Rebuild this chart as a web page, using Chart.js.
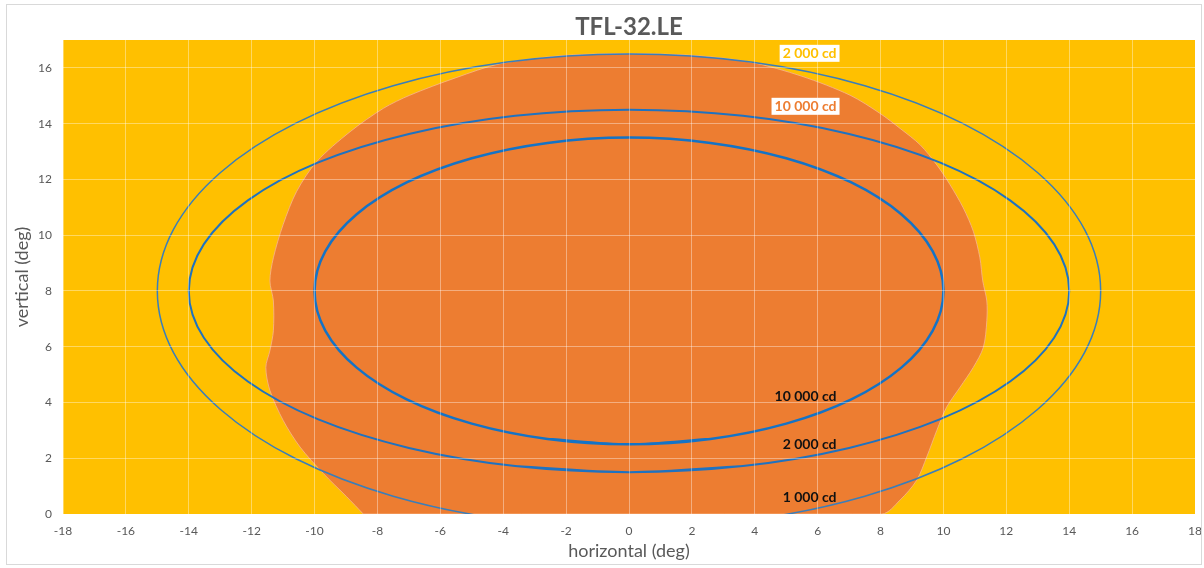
<!DOCTYPE html>
<html>
<head>
<meta charset="utf-8">
<script src="https://cdn.jsdelivr.net/npm/chart.js@4/dist/chart.umd.min.js"></script>
<style>
  html, body { margin: 0; padding: 0; background: #fff; }
  #wrap { position: relative; width: 1204px; height: 568px; }
  #frame { position: absolute; left: 6px; top: 4px; width: 1196px; height: 561px; border: 1px solid #d9d9d9; box-sizing: border-box; pointer-events: none; }
  canvas { position: absolute; left: 0; top: 0; }
</style>
</head>
<body>
<div id="wrap">
  <canvas id="chart" width="1204" height="568"></canvas>
  <div id="frame"></div>
</div>
<script>
// tick labels
const xTicks = [-18, -16, -14, -12, -10, -8, -6, -4, -2, 0, 2, 4, 6, 8, 10, 12, 14, 16, 18];
const yTicks = [0, 2, 4, 6, 8, 10, 12, 14, 16];

// orange area
const areaX = [-8.45, -8.98, -9.72, -10.46, -11.0, -11.42, -11.55, -11.42, -11.31, -11.31, -11.42, -11.31, -11.0, -10.57, -9.93, -8.87, -7.81, -6.97, -5.5, -4.1, -2.0, 0, 2.0, 3.85, 5.5, 7.03, 7.98, 8.62, 9.26, 9.79, 10.21, 10.63, 10.95, 11.16, 11.25, 11.38, 11.38, 11.27, 10.95, 10.53, 10.1, 9.79, 9.47, 9.15, 8.62, 8.04, -8.45];
const areaY = [0, 0.62, 1.45, 2.4, 3.36, 4.43, 5.26, 5.86, 6.57, 7.64, 8.36, 9.19, 10.38, 11.57, 12.64, 13.71, 14.55, 15.02, 15.65, 16.15, 16.45, 16.51, 16.45, 16.21, 15.7, 15.02, 14.37, 13.83, 13.24, 12.52, 11.81, 10.98, 10.14, 9.19, 8.36, 7.64, 6.93, 5.98, 5.26, 4.55, 3.83, 3.0, 2.05, 1.21, 0.5, 0, 0];

// contour 1 000 cd (loop overlaps itself by one step so the join is smooth)
const c1000X = [-3.88, 0, 3.88, 7.5, 10.61, 12.99, 14.49, 15, 14.49, 12.99, 10.61, 7.5, 3.88, 0, -3.88, -7.5, -10.61, -12.99, -14.49, -15, -14.49, -12.99, -10.61, -7.5, -3.88, 0, 3.88];
const c1000Y = [-0.21, -0.5, -0.21, 0.64, 1.99, 3.75, 5.80, 8, 10.20, 12.25, 14.01, 15.36, 16.21, 16.5, 16.21, 15.36, 14.01, 12.25, 10.20, 8, 5.80, 3.75, 1.99, 0.64, -0.21, -0.5, -0.21];

// contour 2 000 cd
const c2000X = [-3.62, 0, 3.62, 7, 9.90, 12.12, 13.52, 14, 13.52, 12.12, 9.90, 7, 3.62, 0, -3.62, -7, -9.90, -12.12, -13.52, -14, -13.52, -12.12, -9.90, -7, -3.62, 0, 3.62];
const c2000Y = [1.72, 1.5, 1.72, 2.37, 3.40, 4.75, 6.32, 8, 9.68, 11.25, 12.60, 13.63, 14.28, 14.5, 14.28, 13.63, 12.60, 11.25, 9.68, 8, 6.32, 4.75, 3.40, 2.37, 1.72, 1.5, 1.72];

// contour 10 000 cd
const c10000X = [-2.59, 0, 2.59, 5, 7.07, 8.66, 9.66, 10, 9.66, 8.66, 7.07, 5, 2.59, 0, -2.59, -5, -7.07, -8.66, -9.66, -10, -9.66, -8.66, -7.07, -5, -2.59, 0, 2.59];
const c10000Y = [2.69, 2.5, 2.69, 3.24, 4.11, 5.25, 6.58, 8, 9.42, 10.75, 11.89, 12.76, 13.31, 13.5, 13.31, 12.76, 11.89, 10.75, 9.42, 8, 6.58, 5.25, 4.11, 3.24, 2.69, 2.5, 2.69];

// text labels on the plot
const titleText = 'TFL-32.LE';
const labelText = ['2 000 cd', '10 000 cd', '10 000 cd', '2 000 cd', '1 000 cd'];
const labelY = [16.54, 14.64, 4.25, 2.54, 0.64];
const labelRightX = 6.6;

const pts = (xs, ys) => xs.map((x, i) => ({ x: x, y: ys[i] }));

const FONT = 'Lato, "Open Sans", sans-serif';
const GREY = '#595959';

const plotBackground = {
  id: 'plotBackground',
  beforeDraw(chart) {
    const { ctx, chartArea: a } = chart;
    ctx.save();
    ctx.fillStyle = '#FFC000';
    ctx.fillRect(a.left, a.top, a.right - a.left, a.bottom - a.top);
    ctx.restore();
  }
};

// title centred over the plot area, like the original
const plotTitle = {
  id: 'plotTitle',
  afterDraw(chart) {
    const { ctx, chartArea: a } = chart;
    ctx.save();
    ctx.font = 'bold 24px ' + FONT;
    ctx.fillStyle = GREY;
    ctx.textAlign = 'center';
    ctx.textBaseline = 'middle';
    ctx.fillText(titleText, (a.left + a.right) / 2, 27);
    ctx.restore();
  }
};

const contourLabels = {
  id: 'contourLabels',
  afterDraw(chart) {
    const { ctx, scales } = chart;
    const styles = [
      { color: '#FFC000', box: true },
      { color: '#ED7D31', box: true },
      { color: '#111111', box: false },
      { color: '#111111', box: false },
      { color: '#111111', box: false },
    ];
    ctx.save();
    ctx.font = 'bold 14px ' + FONT;
    ctx.textAlign = 'right';
    ctx.textBaseline = 'middle';
    labelText.forEach((t, i) => {
      const x = scales.x.getPixelForValue(labelRightX);
      const y = scales.y.getPixelForValue(labelY[i]);
      const w = ctx.measureText(t).width;
      if (styles[i].box) {
        ctx.fillStyle = '#ffffff';
        ctx.fillRect(x - w - 3, y - 8, w + 6, 17);
      }
      ctx.fillStyle = styles[i].color;
      ctx.fillText(t, x, y + 1);
    });
    ctx.restore();
  }
};

const ellipse = (label, xs, ys, color, width) => ({
  label: label,
  data: pts(xs, ys),
  showLine: true,
  borderColor: color,
  borderWidth: width,
  tension: 0.34,
  pointRadius: 0,
  fill: false,
  clip: 0,
});

const ctx = document.getElementById('chart').getContext('2d');
new Chart(ctx, {
  type: 'scatter',
  data: {
    datasets: [
      ellipse('10 000 cd', c10000X, c10000Y, '#1473c6', 2.5),
      ellipse('2 000 cd', c2000X, c2000Y, '#1f72c0', 2),
      ellipse('1 000 cd', c1000X, c1000Y, '#3a7eba', 1.5),
      {
        label: 'area',
        data: pts(areaX, areaY),
        showLine: true,
        borderColor: 'rgba(247,178,130,0.9)',
        borderWidth: 1,
        backgroundColor: '#ED7D31',
        tension: 0.3,
        pointRadius: 0,
        fill: 'shape',
        clip: 0,
      },
    ],
  },
  options: {
    responsive: false,
    animation: false,
    events: [],
    layout: { padding: { left: 6, right: 9, top: 40, bottom: 6 } },
    plugins: {
      legend: { display: false },
      tooltip: { enabled: false },
      title: { display: false },
    },
    scales: {
      x: {
        type: 'linear',
        min: -18,
        max: 18,
        afterBuildTicks: (axis) => { axis.ticks = xTicks.map((v) => ({ value: v })); },
        afterFit: (axis) => { axis.height = 48; axis.paddingLeft = 0; axis.paddingRight = 0; },
        grid: { color: 'rgba(255,255,255,0.38)', lineWidth: 1, drawTicks: false, z: 1 },
        border: { display: false },
        ticks: { color: GREY, font: { family: FONT, size: 12 }, padding: 10, maxRotation: 0 },
        title: {
          display: true,
          text: 'horizontal (deg)',
          color: GREY,
          font: { family: FONT, size: 18 },
          padding: { top: 0, bottom: 0 },
        },
      },
      y: {
        type: 'linear',
        min: 0,
        max: 17,
        afterBuildTicks: (axis) => { axis.ticks = yTicks.map((v) => ({ value: v })); },
        afterFit: (axis) => { axis.width = 57; axis.paddingTop = 0; axis.paddingBottom = 0; },
        grid: { color: 'rgba(255,255,255,0.38)', lineWidth: 1, drawTicks: false, z: 1 },
        border: { display: false },
        ticks: { color: GREY, font: { family: FONT, size: 12 }, padding: 11 },
        title: {
          display: true,
          text: 'vertical (deg)',
          color: GREY,
          font: { family: FONT, size: 18 },
          padding: { top: 5, bottom: 0 },
        },
      },
    },
  },
  plugins: [plotBackground, plotTitle, contourLabels],
});
</script>
</body>
</html>
